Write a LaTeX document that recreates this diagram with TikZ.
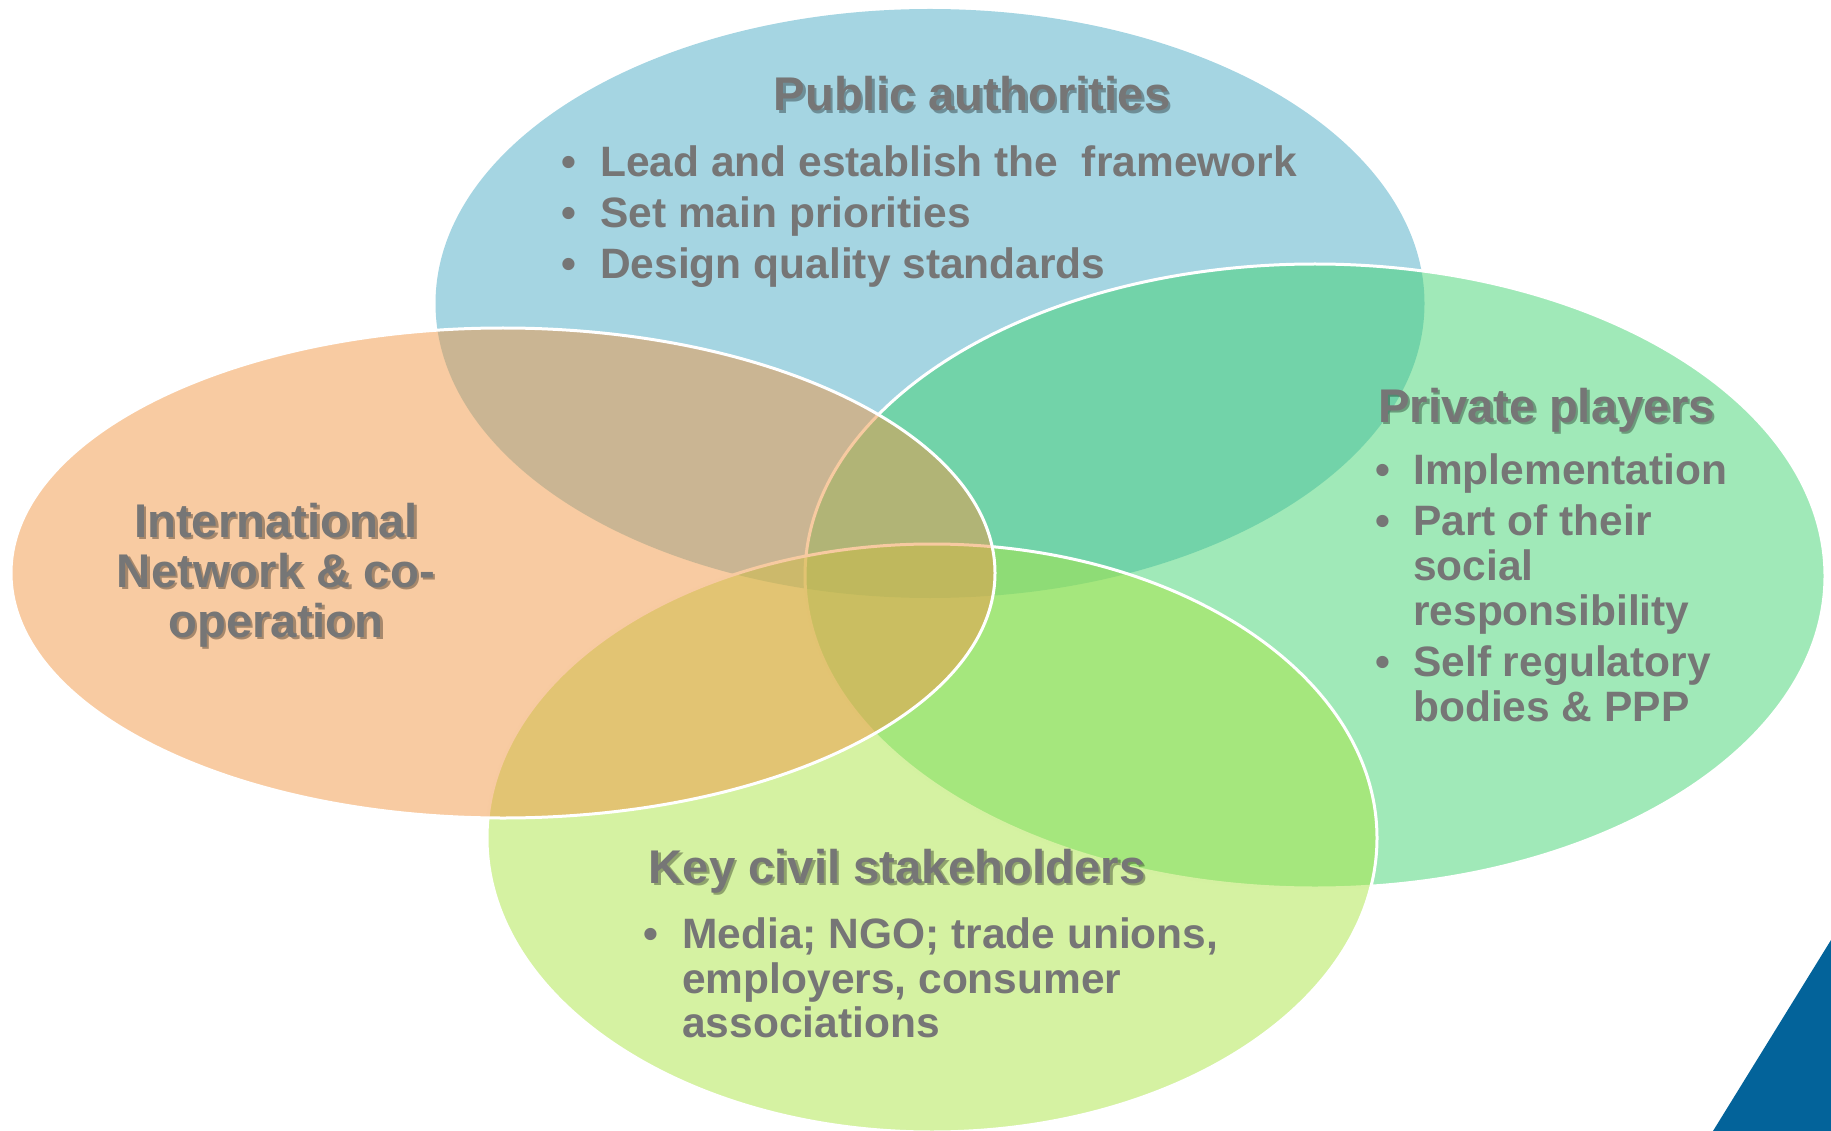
\documentclass[tikz,border=0pt]{standalone}
\usepackage{fontspec}
\setmainfont{Liberation Sans}
\definecolor{pubblue}{RGB}{75,171,197}
\definecolor{privgreen}{RGB}{65,211,113}
\definecolor{civgreen}{RGB}{171,229,69}
\definecolor{intorange}{RGB}{241,151,69}
\definecolor{txtgray}{RGB}{118,118,118}
\definecolor{cornerblue}{RGB}{3,99,154}
\begin{document}
\begin{tikzpicture}[x=1pt,y=-1pt,
  venn/.style={fill opacity=0.5, draw=white, line width=3pt},
  ttl/.style={inner sep=0pt, font={\fontsize{47.3}{50}\selectfont\bfseries}, text=txtgray},
  ttlshadow/.style={inner sep=0pt, font={\fontsize{47.3}{50}\selectfont\bfseries}, text=black, text opacity=0.33},
  item/.style={inner sep=0pt, anchor=base west, font={\fontsize{42.5}{45}\selectfont\bfseries}, text=txtgray},
  bul/.style={inner sep=0pt, anchor=base, font={\fontsize{42.5}{45}\selectfont\bfseries}, text=txtgray}]
\useasboundingbox (0,0) rectangle (1831,1131);
\clip (0,0) rectangle (1831,1131);
% ellipses
\fill[fill=pubblue, fill opacity=0.5] (930,303.5) ellipse [x radius=494.5pt, y radius=294.5pt];
\filldraw[venn, fill=privgreen] (1315,576) ellipse [x radius=510pt, y radius=312pt];
\filldraw[venn, fill=civgreen] (932,838) ellipse [x radius=445pt, y radius=294pt];
\filldraw[venn, fill=intorange] (503,573) ellipse [x radius=492pt, y radius=245pt];
% corner triangle
\fill[cornerblue] (1831,940) -- (1713,1131) -- (1831,1131) -- cycle;
% Public authorities
\node[ttlshadow, anchor=base] (pubS) at (974.5,113.5) {Public authorities};
\node[ttl, anchor=base] (pubT) at (972,111) {Public authorities};
\node[bul] (pubB1) at (569,177) {•};
\node[item] (pub1) at (600,177) {Lead and establish the\ \ framework};
\node[bul] (pubB2) at (569,228) {•};
\node[item] (pub2) at (600,228) {Set main priorities};
\node[bul] (pubB3) at (569,279) {•};
\node[item] (pub3) at (600,279) {Design quality standards};
% Private players
\node[ttlshadow, anchor=base west] (privS) at (1380.5,424.5) {Private players};
\node[ttl, anchor=base west] (privT) at (1378,422) {Private players};
\node[bul] (privB1) at (1383,484) {•};
\node[item] (priv1) at (1413,484) {Implementation};
\node[bul] (privB2) at (1383,535) {•};
\node[item] (priv2) at (1413,535) {Part of their};
\node[item] (priv3) at (1413,580) {social};
\node[item] (priv4) at (1413,625) {responsibility};
\node[bul] (privB3) at (1383,676) {•};
\node[item] (priv5) at (1413,676) {Self regulatory};
\node[item] (priv6) at (1413,721) {bodies \& PPP};
% International
\node[ttlshadow, anchor=base] (intS1) at (278.5,539.5) {International};
\node[ttl, anchor=base] (int1) at (276,537) {International};
\node[ttlshadow, anchor=base] (intS2) at (278.5,589.5) {Network \& co-};
\node[ttl, anchor=base] (int2) at (276,587) {Network \& co-};
\node[ttlshadow, anchor=base] (intS3) at (278.5,639.5) {operation};
\node[ttl, anchor=base] (int3) at (276,637) {operation};
% Key civil stakeholders
\node[ttlshadow, anchor=base] (civS) at (899.5,885.5) {Key civil stakeholders};
\node[ttl, anchor=base] (civT) at (897,883) {Key civil stakeholders};
\node[bul] (civB1) at (651,948) {•};
\node[item] (civ1) at (682,948) {Media; NGO; trade unions,};
\node[item] (civ2) at (682,993) {employers, consumer};
\node[item] (civ3) at (682,1037) {associations};
\end{tikzpicture}
\end{document}
